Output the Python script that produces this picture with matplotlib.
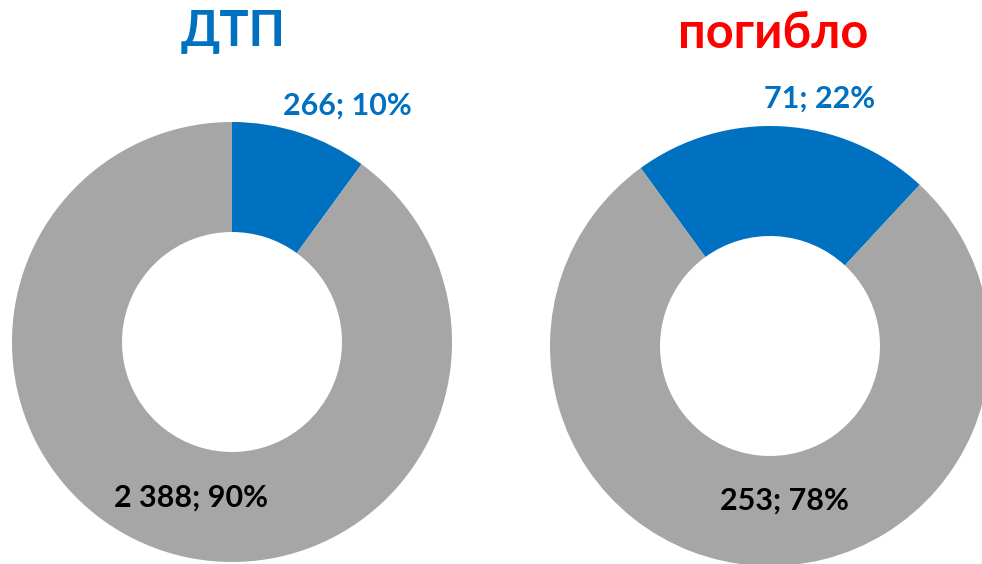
import matplotlib
matplotlib.use("Agg")
import matplotlib.pyplot as plt

# data
titles = ["ДТП", "погибло"]
title_colors = ["#0070C0", "#FF0000"]
dtp_values = [266, 2388]
killed_values = [71, 253]
slice_colors = ["#0070C0", "#A6A6A6"]
label_colors = ["#0070C0", "#000000"]

W, H = 982, 564
FONT = ["Lato", "Open Sans", "DejaVu Sans"]


def fmt(v, total):
    return f"{v:,}".replace(",", " ") + f"; {round(v / total * 100)}%"


def px(x, y):
    # image pixel coords -> figure fraction
    return x / W, 1 - y / H


def donut(fig, values, center, start, title, title_color, title_pos, label_pos):
    cx, cy = center
    r = 220
    ax = fig.add_axes([(cx - r) / W, (H - cy - r) / H, 2 * r / W, 2 * r / H])
    ax.pie(values, colors=slice_colors, startangle=start, counterclock=False,
           radius=1, wedgeprops=dict(width=0.5, edgecolor="none"))
    ax.set_xlim(-1, 1)
    ax.set_ylim(-1, 1)
    ax.set_aspect("equal")
    ax.axis("off")

    total = sum(values)
    for v, c, pos in zip(values, label_colors, label_pos):
        fig.text(*px(*pos), fmt(v, total), color=c, fontsize=22,
                 fontweight="bold", family=FONT, ha="center", va="center")
    fig.text(*px(*title_pos), title, color=title_color, fontsize=35,
             fontweight="bold", family=FONT, ha="center", va="center")


fig = plt.figure(figsize=(W / 100, H / 100), dpi=100)

donut(fig, dtp_values, (232, 342), 90, titles[0], title_colors[0],
      (233, 31), [(347, 106), (191, 498)])
donut(fig, killed_values, (770, 346), 126, titles[1], title_colors[1],
      (773, 33), [(820, 99), (784, 501)])

fig.savefig("out.png", dpi=100)
